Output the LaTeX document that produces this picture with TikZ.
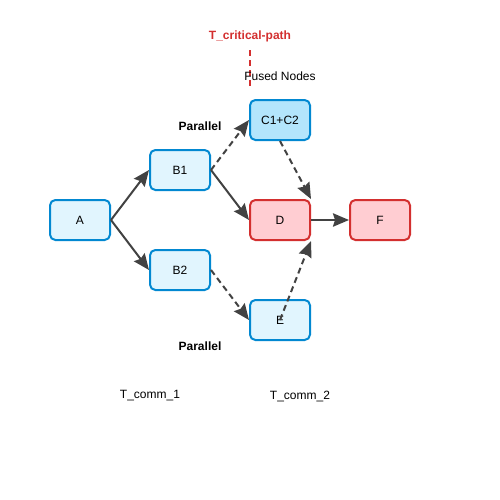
\documentclass[tikz,border=0pt]{standalone}
\usepackage{fontspec}
\setmainfont{Liberation Sans}
\usetikzlibrary{arrows.meta}

\definecolor{boxblue}{HTML}{0288D1}
\definecolor{fillblue}{HTML}{E1F5FE}
\definecolor{fusedblue}{HTML}{B3E5FC}
\definecolor{critred}{HTML}{D32F2F}
\definecolor{critfill}{HTML}{FFCDD2}
\definecolor{edgegray}{HTML}{424242}

\tikzset{
  task/.style={draw=boxblue,fill=fillblue,line width=1.5pt,rounded corners=4pt,
    minimum width=45pt,minimum height=30pt,inner sep=0pt,font=\fontsize{9}{11}\selectfont},
  fused/.style={task,fill=fusedblue},
  crit/.style={task,draw=critred,fill=critfill},
  flow/.style={draw=edgegray,line width=1.5pt,-{Stealth[length=12pt,width=10pt,inset=1.5pt]}},
  para/.style={flow,dash pattern=on 4.5pt off 3pt},
  lbl/.style={inner sep=0pt,font=\fontsize{9}{11}\selectfont}
}

\begin{document}
\begin{tikzpicture}[x=0.75pt,y=0.75pt,yscale=-1,xscale=1]
\useasboundingbox (0,0) rectangle (500,500);

%Shape: Rounded Rect
\node[task] (A) at (80,220) {A};
\node[task] (B1) at (180,170) {B1};
\node[task] (B2) at (180,270) {B2};
\node[fused] (C) at (280,120) {C1+C2};
\node[crit] (D) at (280,220) {D};
\node[task] (E) at (280,320) {E};
\node[crit] (F) at (380,220) {F};

%Straight Lines
\draw[flow] (A.east) -- (B1.west);
\draw[flow] (A.east) -- (B2.west);
\draw[para] (B1.east) -- (C.west);
\draw[flow] (B1.east) -- (D.west);
\draw[para] (B2.east) -- (E.west);
\draw[para] (C.south) -- (D.north east);
\draw[para] (E.center) -- (D.south east);
\draw[flow] (D.east) -- (F.west);

% Text Node
\node[lbl,font=\fontsize{9}{11}\selectfont\bfseries,text=critred] (crit) at (250,36) {T\_critical-path};
\coordinate (critTop) at (250,50);
\coordinate (critBot) at (250,87);
\draw[critred,line width=1.5pt,dash pattern=on 4.5pt off 3pt] (critTop) -- (critBot);
% Text Node
\node[lbl] (fusedlbl) at (280,76) {Fused Nodes};
% Text Node
\node[lbl,font=\fontsize{9}{11}\selectfont\bfseries] (par1) at (200,126) {Parallel};
% Text Node
\node[lbl,font=\fontsize{9}{11}\selectfont\bfseries] (par2) at (200,346) {Parallel};
% Text Node
\node[lbl] (comm1) at (150,396) {T\_comm\_1};
% Text Node
\node[lbl] (comm2) at (300,396) {T\_comm\_2};

\end{tikzpicture}
\end{document}
